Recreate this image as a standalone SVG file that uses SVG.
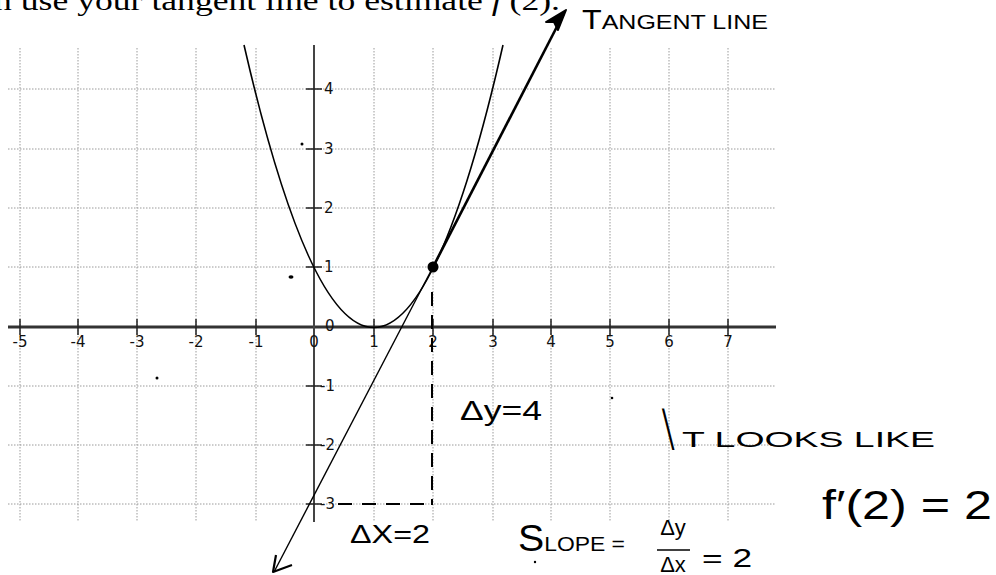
<svg xmlns="http://www.w3.org/2000/svg" width="996" height="575" viewBox="0 0 996 575">
<style>
.grid{stroke:#9a9a9a;stroke-width:1;stroke-dasharray:1.5,1.5;fill:none}
.tick{stroke:#222;stroke-width:1.5}
.lab{font-family:"DejaVu Sans",sans-serif;font-size:15px;fill:#111}
.hand{font-family:"Liberation Sans",Arial,sans-serif;fill:#000}
.hdr{font-family:"Liberation Serif","Times New Roman",serif;font-size:27px;fill:#000}
</style>
<rect width="996" height="575" fill="#fff"/>
<text class="hdr" x="-6" y="10" textLength="566" lengthAdjust="spacingAndGlyphs">n use your tangent line to estimate <tspan font-style="italic">f</tspan>′(2).</text>
<g id="grid">
<path class="grid" d="M20,48V522M78,48V522M137,48V522M196,48V522M256,48V522M374,48V522M433,48V522M493,48V522M551,48V522M610,48V522M669,48V522M728,48V522"/>
<path class="grid" d="M8,89H775M8,149H775M8,208H775M8,267H775M8,386H775M8,445H775M8,504H775"/>
</g>
<g id="axes">
<line x1="8" y1="327" x2="776" y2="327" stroke="#333" stroke-width="3"/>
<line x1="314" y1="45" x2="314" y2="522" stroke="#444" stroke-width="2"/>
<path class="tick" d="M20,319V335M78,319V335M137,319V335M196,319V335M256,319V335M374,319V335M433,319V335M493,319V335M551,319V335M610,319V335M669,319V335M728,319V335"/>
<path class="tick" d="M306,89H322M306,149H322M306,208H322M306,267H322M306,386H322M306,445H322M306,504H322"/>
<g class="lab" text-anchor="middle">
<text x="20" y="347">-5</text><text x="78" y="347">-4</text><text x="137" y="347">-3</text><text x="196" y="347">-2</text><text x="256" y="347">-1</text><text x="314" y="347">0</text><text x="374" y="347">1</text><text x="433" y="347">2</text><text x="493" y="347">3</text><text x="551" y="347">4</text><text x="610" y="347">5</text><text x="669" y="347">6</text><text x="728" y="347">7</text>
</g>
<g class="lab">
<text x="324" y="94">4</text><text x="324" y="154">3</text><text x="324" y="213">2</text><text x="324" y="272">1</text><text x="325" y="331">0</text><text x="320" y="391">-1</text><text x="320" y="450">-2</text><text x="320" y="509">-3</text>
</g>
</g>
<g id="curve">
<path d="M244,45 Q374,610 503,45" fill="none" stroke="#000" stroke-width="1.6"/>
</g>
<g id="connectors">
<line x1="433" y1="267" x2="564" y2="13" stroke="#000" stroke-width="2.6"/>
<polygon points="566,10 546,22 554,22 558,30" fill="#000" stroke="#000" stroke-width="2" stroke-linejoin="round"/>
<line x1="433" y1="267" x2="274" y2="572" stroke="#000" stroke-width="1.4"/>
<polyline points="276,555 273,572 292,565" fill="none" stroke="#000" stroke-width="2.2" stroke-linejoin="round"/>
<line x1="432" y1="292" x2="432" y2="505" stroke="#000" stroke-width="2" stroke-dasharray="14,9"/>
<line x1="338" y1="504" x2="432" y2="504" stroke="#000" stroke-width="2" stroke-dasharray="14,10"/>
</g>
<g id="point"><circle cx="433" cy="267" r="5.5" fill="#000"/></g>
<g id="specks" fill="#000">
<circle cx="302" cy="144" r="1.5"/><ellipse cx="291" cy="277" rx="2.5" ry="1.8"/><circle cx="157" cy="378" r="1.5"/><circle cx="612" cy="398" r="1.3"/><circle cx="535" cy="562" r="1.2"/>
</g>
<g id="labels">
<text class="hand" x="582" y="29" font-size="21" textLength="186" lengthAdjust="spacingAndGlyphs"><tspan font-size="27">T</tspan>ANGENT LINE</text>
<text class="hand" x="460" y="420" font-size="27" textLength="82" lengthAdjust="spacingAndGlyphs">Δy=4</text>
<text class="hand" x="350" y="543" font-size="25" textLength="80" lengthAdjust="spacingAndGlyphs">ΔX=2</text>
<text class="hand" x="518" y="551" font-size="21" textLength="107" lengthAdjust="spacingAndGlyphs"><tspan font-size="36">S</tspan>LOPE =</text>
<text class="hand" x="673" y="535" font-size="22" text-anchor="middle">Δy</text>
<line x1="657" y1="550" x2="690" y2="550" stroke="#000" stroke-width="1.6"/>
<text class="hand" x="673" y="572" font-size="22" text-anchor="middle">Δx</text>
<text class="hand" x="702" y="567" font-size="26" textLength="50" lengthAdjust="spacingAndGlyphs">= 2</text>
<text class="hand" transform="translate(670,450) skewX(14) scale(1.1,2.75)" x="0" y="0" font-size="22">I</text>
<text class="hand" x="682" y="447" font-size="22" textLength="253" lengthAdjust="spacingAndGlyphs">T LOOKS LIKE</text>
<text class="hand" x="822" y="519" font-size="40" textLength="170" lengthAdjust="spacingAndGlyphs">f′(2) = 2</text>
</g>
</svg>
